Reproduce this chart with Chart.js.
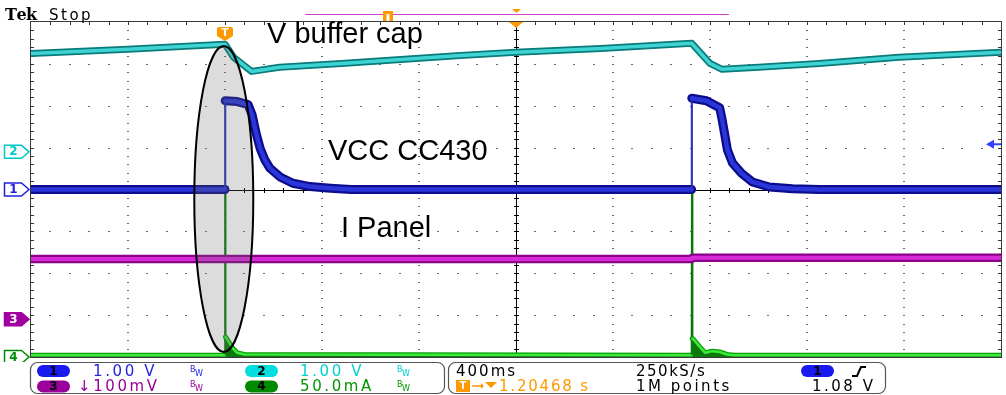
<!DOCTYPE html>
<html><head><meta charset="utf-8">
<script src="https://cdn.jsdelivr.net/npm/chart.js@4.4.1/dist/chart.umd.min.js"></script>
<style>html,body{margin:0;padding:0;background:#fff;overflow:hidden}canvas{display:block}</style>
</head><body><canvas id="c" width="1006" height="395"></canvas>
<script>
// Time axis: ms from the left edge of the screen (400 ms/div, 10 div)
const ch1Time  = [0, 800, 801, 850, 895, 912, 928, 945, 965, 985, 1027, 1080, 1150, 1235, 1320, 2724, 2725, 2785, 2840, 2848, 2860, 2872, 2893, 2930, 2975, 3045, 3140, 3250, 4000];
const ch1Volts = [0, 0, 2.12, 2.10, 2.03, 1.78, 1.35, 0.98, 0.70, 0.51, 0.30, 0.15, 0.07, 0.03, 0, 0, 2.18, 2.12, 1.95, 1.73, 1.34, 0.94, 0.63, 0.39, 0.18, 0.06, 0.02, 0, 0];

const ch2Time  = [0, 400, 800, 835, 910, 1025, 1280, 1770, 2000, 2350, 2725, 2800, 2850, 3000, 3250, 3580, 4000];
const ch2Volts = [2.35, 2.45, 2.57, 2.26, 1.92, 2.02, 2.11, 2.30, 2.38, 2.47, 2.59, 2.11, 1.97, 2.02, 2.11, 2.26, 2.38];

const ch3Time  = [0, 2724, 2726, 4000];
const ch3mV    = [144, 144, 147, 147];

const ch4Time  = [0, 800, 801, 802, 815, 830, 850, 880, 2725, 2726, 2727, 2735, 2755, 2780, 2810, 2840, 2870, 2900, 4000];
const ch4mA    = [2, 2, 199, 24, 18, 11, 5, 3, 2, 196, 22, 20, 13, 5, 7, 6, 3, 2, 2];

const traceLabels = ['V buffer cap', 'VCC CC430', 'I Panel'];
const chScaleText = ['1.00 V', '1.00 V', '\u2193100mV', '50.0mA'];
const timebaseText = ['400ms', '250kS/s', '1M points', '1.08 V', '1.20468 s'];
const triggerTime = 800;
const triggerLevel = 1.08;

const pts = (t, v) => t.map((x, i) => ({x, y: v[i]}));
const steep = c => Math.abs(c.p1.x - c.p0.x) < 1 && Math.abs(c.p1.y - c.p0.y) > 12;

function trace(data, yAxisID, order, width, color, steepW, steepC, extra) {
  return Object.assign({
    data, yAxisID, order, borderWidth: width, borderColor: color,
    pointRadius: 0, tension: 0, fill: false, borderCapStyle: 'round', borderJoinStyle: 'round',
    segment: {
      borderWidth: c => steep(c) ? steepW : undefined,
      borderColor: c => steep(c) ? steepC : undefined
    }
  }, extra || {});
}

function spaced(ctx, s, x, y, sp) {
  for (const ch of s) { ctx.fillText(ch, x, y); x += ctx.measureText(ch).width + sp; }
  return x;
}

const scopeDecor = {
  id: 'scopeDecor',
  beforeDatasetsDraw(chart) {
    const {ctx, chartArea: a} = chart;
    const dx = (a.right - a.left) / 10, dy = (a.bottom - a.top) / 8;
    ctx.save();
    ctx.fillStyle = '#6a6a6a';
    for (let i = 1; i < 10; i++) {
      if (i === 5) continue;
      const x = Math.round(a.left + i * dx);
      for (let j = 1; j < 40; j++) ctx.fillRect(x - 1, Math.round(a.top + j * dy / 5), 2, 1);
    }
    for (let k = 1; k < 8; k++) {
      if (k === 4) continue;
      const y = Math.round(a.top + k * dy);
      for (let j = 1; j < 50; j++) ctx.fillRect(Math.round(a.left + j * dx / 5) - 1, y, 2, 1);
    }
    const cx = Math.round(a.left + 5 * dx) + 0.5, cy = Math.round(a.top + 4 * dy) + 0.5;
    ctx.strokeStyle = '#000'; ctx.lineWidth = 1;
    ctx.beginPath(); ctx.moveTo(cx, a.top); ctx.lineTo(cx, a.bottom); ctx.moveTo(a.left, cy); ctx.lineTo(a.right, cy); ctx.stroke();
    ctx.fillStyle = '#000';
    for (let j = 1; j < 40; j++) ctx.fillRect(cx - 2.5, Math.round(a.top + j * dy / 5), 5, 1);
    for (let j = 1; j < 50; j++) ctx.fillRect(Math.round(a.left + j * dx / 5), cy - 2.5, 1, 5);
    ctx.fillStyle = '#333';
    for (let j = 1; j < 50; j++) { const x = Math.round(a.left + j * dx / 5); ctx.fillRect(x, a.top, 1, 3); ctx.fillRect(x, a.bottom - 3, 1, 3); }
    for (let j = 1; j < 40; j++) { const y = Math.round(a.top + j * dy / 5); ctx.fillRect(a.left, y, 3, 1); ctx.fillRect(a.right - 3, y, 3, 1); }
    ctx.strokeStyle = '#3a3a3a'; ctx.lineWidth = 1;
    ctx.strokeRect(a.left - 0.5, a.top - 0.5, a.right - a.left + 1, a.bottom - a.top + 1);
    ctx.restore();
  },
  afterDatasetsDraw(chart) {
    const {ctx, chartArea: a, scales} = chart;
    ctx.save();
    // highlight ellipse around first event
    const ex = scales.x.getPixelForValue(795);
    ctx.beginPath(); ctx.ellipse(ex, 199, 29.5, 153, 0, 0, Math.PI * 2);
    ctx.fillStyle = 'rgba(110,110,110,0.24)'; ctx.fill();
    ctx.strokeStyle = '#000'; ctx.lineWidth = 2; ctx.stroke();

    // trace labels
    ctx.fillStyle = '#000'; ctx.font = '29px "Liberation Sans", Arial, sans-serif'; ctx.textBaseline = 'alphabetic';
    ctx.fillText(traceLabels[0], 267, 43);
    ctx.fillText(traceLabels[1], 328, 160);
    ctx.fillText(traceLabels[2], 341, 237);

    // trigger T marker
    const tx = scales.x.getPixelForValue(triggerTime);
    ctx.fillStyle = '#ff9900';
    ctx.beginPath();
    ctx.moveTo(tx - 8, 36); ctx.lineTo(tx - 8, 29); ctx.quadraticCurveTo(tx - 8, 27, tx - 6, 27);
    ctx.lineTo(tx + 6, 27); ctx.quadraticCurveTo(tx + 8, 27, tx + 8, 29); ctx.lineTo(tx + 8, 36); ctx.lineTo(tx, 41); ctx.closePath(); ctx.fill();
    ctx.fillStyle = '#fff'; ctx.font = 'bold 11px "DejaVu Sans"'; ctx.textAlign = 'center'; ctx.textBaseline = 'middle';
    ctx.fillText('T', tx, 33);

    // top border trigger-position triangle
    const mx = (a.left + a.right) / 2;
    ctx.fillStyle = '#ff9900';
    ctx.beginPath(); ctx.moveTo(mx - 7, a.top); ctx.lineTo(mx + 7, a.top); ctx.lineTo(mx, a.top + 6); ctx.closePath(); ctx.fill();

    // channel ground markers
    const marker = (y, label, color, filled) => {
      ctx.save();
      ctx.beginPath(); ctx.rect(0, 0, 40, 362); ctx.clip();
      ctx.beginPath();
      ctx.moveTo(4.5, y - 6.5); ctx.lineTo(21.5, y - 6.5); ctx.lineTo(29, y); ctx.lineTo(21.5, y + 6.5); ctx.lineTo(4.5, y + 6.5); ctx.closePath();
      ctx.fillStyle = filled ? color : '#fff'; ctx.fill();
      ctx.strokeStyle = color; ctx.lineWidth = 1.5; ctx.stroke();
      ctx.fillStyle = filled ? '#fff' : color; ctx.font = 'bold 12px "DejaVu Sans"'; ctx.textAlign = 'center'; ctx.textBaseline = 'middle';
      ctx.fillText(label, 13.5, y + 0.5);
      ctx.restore();
    };
    marker(scales.y2.getPixelForValue(0), '2', '#00c8c8', false);
    marker(scales.y1.getPixelForValue(0), '1', '#2020e0', false);
    marker(scales.y3.getPixelForValue(0), '3', '#a000a0', true);
    marker(scales.y4.getPixelForValue(0), '4', '#008c00', false);

    // trigger level arrow (ch1)
    const ly = scales.y1.getPixelForValue(triggerLevel);
    ctx.fillStyle = '#3040ff'; ctx.strokeStyle = '#3040ff'; ctx.lineWidth = 2;
    ctx.beginPath(); ctx.moveTo(986, ly); ctx.lineTo(994, ly - 4.5); ctx.lineTo(994, ly + 4.5); ctx.closePath(); ctx.fill();
    ctx.beginPath(); ctx.moveTo(993, ly); ctx.lineTo(1001, ly); ctx.stroke();
    ctx.restore();
  },
  afterDraw(chart) {
    const {ctx} = chart;
    ctx.save();
    // header
    ctx.fillStyle = '#000'; ctx.textBaseline = 'alphabetic'; ctx.textAlign = 'left';
    ctx.font = 'bold 16px "DejaVu Serif"';
    spaced(ctx, 'Tek', 5, 20, -0.5);
    ctx.font = '15px "DejaVu Sans"';
    spaced(ctx, 'Stop', 49, 20, 2.5);
    ctx.strokeStyle = '#cc44cc'; ctx.lineWidth = 1.2;
    ctx.beginPath(); ctx.moveTo(305, 14.5); ctx.lineTo(729, 14.5); ctx.stroke();
    ctx.fillStyle = '#ff9900';
    ctx.fillRect(383, 11, 10, 10);
    ctx.fillStyle = '#fff'; ctx.fillRect(386.5, 14, 3, 7);
    ctx.fillStyle = '#ff9900';
    ctx.beginPath(); ctx.moveTo(512, 9); ctx.lineTo(521, 9); ctx.lineTo(516.5, 13); ctx.closePath(); ctx.fill();

    // bottom readout panel
    ctx.strokeStyle = '#555'; ctx.lineWidth = 1.2;
    ctx.beginPath(); ctx.roundRect(30.5, 362.5, 414, 31, 7); ctx.stroke();
    ctx.beginPath(); ctx.roundRect(448.5, 362.5, 437, 31, 7); ctx.stroke();

    const pill = (x, y, color, label) => {
      ctx.fillStyle = color; ctx.beginPath(); ctx.roundRect(x, y, 33, 12, 6); ctx.fill();
      ctx.fillStyle = '#000'; ctx.font = 'bold 12px "DejaVu Sans"'; ctx.textAlign = 'center'; ctx.textBaseline = 'middle';
      ctx.fillText(label, x + 16.5, y + 6.5);
      ctx.textAlign = 'left'; ctx.textBaseline = 'alphabetic';
    };
    const bw = (x, yb, color) => {
      ctx.fillStyle = color; ctx.font = '8px "DejaVu Sans"';
      ctx.fillText('B', x, yb - 4); ctx.fillText('W', x + 5, yb);
    };
    const txt = (s, x, y, color, sp) => { ctx.fillStyle = color; ctx.font = '15px "DejaVu Sans"'; return spaced(ctx, s, x, y, sp); };

    const r1 = 376, r2 = 391;
    pill(37, 365, '#1a1af0', '1'); txt(chScaleText[0], 93, r1, '#2323e0', 2.6); bw(190, r1, '#2323e0');
    pill(245, 365, '#00dede', '2'); txt(chScaleText[1], 300, r1, '#00d0d0', 2.6); bw(397, r1, '#00d0d0');
    pill(37, 380.5, '#9a009a', '3'); txt(chScaleText[2], 78, r2, '#990099', 2.6); bw(190, r2, '#990099');
    pill(245, 380.5, '#008a00', '4'); txt(chScaleText[3], 300, r2, '#009400', 2.6); bw(397, r2, '#009400');

    txt(timebaseText[0], 456, r1, '#000', 2);
    txt(timebaseText[1], 636, r1, '#000', 1.5);
    pill(801, 365, '#1a1af0', '1');
    ctx.strokeStyle = '#000'; ctx.lineWidth = 2;
    ctx.beginPath(); ctx.moveTo(852, 376); ctx.lineTo(857, 376); ctx.lineTo(861, 367); ctx.lineTo(866, 367); ctx.stroke();
    txt(timebaseText[2], 636, r2, '#000', 2.5);
    txt(timebaseText[3], 812, r2, '#000', 2.5);
    // trigger position readout
    ctx.fillStyle = '#ff9900'; ctx.fillRect(456, 380, 14, 12);
    ctx.fillStyle = '#fff'; ctx.font = 'bold 10px "DejaVu Sans"'; ctx.textAlign = 'center'; ctx.textBaseline = 'middle';
    ctx.fillText('T', 463, 386.5); ctx.textAlign = 'left'; ctx.textBaseline = 'alphabetic';
    ctx.strokeStyle = '#ff9900'; ctx.fillStyle = '#ff9900'; ctx.lineWidth = 1.5;
    ctx.beginPath(); ctx.moveTo(472, 386); ctx.lineTo(481, 386); ctx.stroke();
    ctx.beginPath(); ctx.moveTo(481, 383); ctx.lineTo(484, 386); ctx.lineTo(481, 389); ctx.closePath(); ctx.fill();
    ctx.beginPath(); ctx.moveTo(485, 382); ctx.lineTo(497, 382); ctx.lineTo(491, 388); ctx.closePath(); ctx.fill();
    txt(timebaseText[4], 499, r2, '#ff9900', 1.8);
    ctx.restore();
  }
};

new Chart(document.getElementById('c'), {
  type: 'line',
  data: {
    datasets: [
      trace(pts(ch1Time, ch1Volts), 'y1', 0, 4.5, '#2b36d8', 1, '#3040d8'),
      trace(pts(ch1Time, ch1Volts), 'y1', 1, 9, '#0c0c8c', 2, '#1a1aa0'),
      trace(pts(ch2Time, ch2Volts), 'y2', 2, 3.5, '#3fd4d4', 1, '#3fd4d4'),
      trace(pts(ch2Time, ch2Volts), 'y2', 3, 7, '#0a7a7a', 2, '#0a7a7a'),
      trace(pts(ch3Time, ch3mV), 'y3', 4, 4, '#d82ad8', 1, '#d82ad8'),
      trace(pts(ch3Time, ch3mV), 'y3', 5, 8.5, '#8a008a', 2, '#8a008a'),
      trace(pts(ch4Time, ch4mA), 'y4', 6, 2.5, '#3ee83e', 1, '#0a780a', {fill: 'start', backgroundColor: '#0a7a0a'}),
      trace(pts(ch4Time, ch4mA), 'y4', 7, 5, '#00a000', 2.2, '#0a780a')
    ]
  },
  options: {
    responsive: false, animation: false, events: [],
    layout: {padding: {left: 31, right: 5, top: 22, bottom: 38}},
    plugins: {legend: {display: false}, tooltip: {enabled: false}},
    scales: {
      x: {type: 'linear', min: 0, max: 4000, display: false},
      y1: {type: 'linear', min: -4, max: 4, display: false},
      y2: {type: 'linear', min: -4.9, max: 3.1, display: false},
      y3: {type: 'linear', min: -90, max: 710, display: false},
      y4: {type: 'linear', min: 0, max: 400, display: false}
    }
  },
  plugins: [scopeDecor]
});
</script>
</body></html>
